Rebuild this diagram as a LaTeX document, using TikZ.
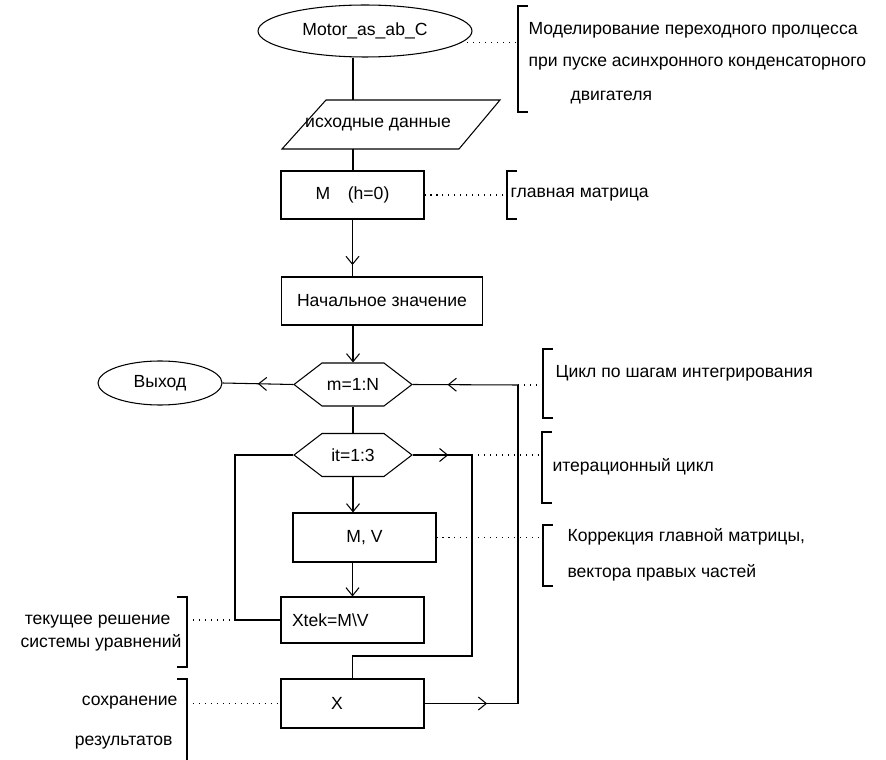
\documentclass[tikz,border=0pt]{standalone}
\usepackage{fontspec}
\setmainfont{Liberation Sans}
\usepackage{tikz}
\usetikzlibrary{shapes.geometric, shapes.symbols, arrows.meta, decorations.markings}

\tikzset{
  blok/.style={draw, rectangle, inner sep=0pt, minimum width=2.86cm, minimum height=0.96cm},
  cikl/.style={draw, signal, signal to=east and west, signal pointer angle=75, inner sep=0pt, minimum width=2.36cm, minimum height=0.86cm},
  term/.style={draw, ellipse, inner sep=0pt},
  poyasn/.style={dash pattern=on 0.6pt off 2.8pt},
  flow/.style={decoration={markings, mark=at position #1 with {\arrow{>}}}, postaction={decorate}},
  lnote/.style={anchor=west, inner sep=0pt},
  rnote/.style={anchor=east, inner sep=0pt},
}

\begin{document}
\begin{tikzpicture}[x=0.02cm, y=-0.02cm, line width=0.6pt, >={Straight Barb[length=1.6mm, width=2.6mm]}, font=\fontsize{10}{12}\selectfont]
\useasboundingbox (0,0) rectangle (886,760);

% blocks
\node[term, minimum width=4.28cm, minimum height=1.04cm] (start) at (365,31) {Motor\_as\_ab\_C};
\draw (282,149) -- (326,100) -- (500,100) -- (459,149) -- cycle;
\coordinate (in top) at (353,100);
\coordinate (in bot) at (353,149);
\node (data) at (378,125) {исходные данные};
\node[blok] (mh) at (352.5,195) {M\quad(h=0)};
\node[blok, minimum width=4.02cm] (init) at (382,301) {Начальное значение};
\node[cikl] (mloop) at (353,384.5) {m=1:N};
\node[term, minimum width=2.48cm, minimum height=0.88cm] (exit) at (160,383) {Выход};
\node[cikl] (itloop) at (353,455) {it=1:3};
\node[blok, minimum height=0.98cm] (mv) at (364.5,537.5) {M, V};
\node[blok, minimum height=0.92cm, inner xsep=0.2cm, text width=2.42cm, align=left] (xtek) at (352.5,620) {Xtek=M\textbackslash V};
\node[blok, minimum height=0.98cm, inner xsep=0.98cm, text width=0.86cm, align=left] (xres) at (352.5,703.5) {X};

% connectors
\draw (start.south -| in top) -- (in top);
\draw (in bot) -- (in bot |- mh.north);
\draw[flow=0.8] (mh.south) -- (mh.south |- init.north);
\draw[->] (init.south -| mloop) -- (mloop.north);
\draw[flow=0.5] (mloop.west) -- (exit.east);
\draw (mloop.south) -- (itloop.north);
\draw[->] (itloop.south) -- (itloop.south |- mv.north);
\draw[->] (mv.south -| xtek) -- (xtek.north);
\coordinate (loopL) at (235,455);
\draw (xtek.west) -| (loopL) -- (itloop.west);
\coordinate (loopR) at (472,455);
\coordinate (join) at (472,656);
\draw[flow=0.6] (itloop.east) -- (loopR);
\draw (loopR) -- (join) -| (xres.north);
\coordinate (back) at (518,385);
\draw[flow=0.67] (xres.east) -- (xres.east -| back);
\draw (xres.east -| back) -- (back);
\draw[flow=0.67] (back) -- (mloop.east);

% brackets
\coordinate (b1) at (518,6);
\coordinate (b2) at (507,171);
\coordinate (b3) at (543,349);
\coordinate (b4) at (542,432);
\coordinate (b5) at (543,525);
\coordinate (b6) at (187,597);
\coordinate (b7) at (187,679);
\draw ([xshift=0.2cm]b1) -- (b1) -- ++(0,106) -- ++(10,0);
\draw ([xshift=0.2cm]b2) -- (b2) -- ++(0,48) -- ++(10,0);
\draw ([xshift=0.2cm]b3) -- (b3) -- ++(0,69) -- ++(10,0);
\draw ([xshift=0.2cm]b4) -- (b4) -- ++(0,71) -- ++(10,0);
\draw ([xshift=0.2cm]b5) -- (b5) -- ++(0,61) -- ++(10,0);
\draw ([xshift=-0.2cm]b6) -- (b6) -- ++(0,70) -- ++(-10,0);
\draw ([xshift=-0.2cm]b7) -- (b7) -- (187,760);

% notes
\draw[poyasn] (start.-7) -- (start.-7 -| b1);
\draw[poyasn] (mh.east) -- (mh.east -| b2);
\draw[poyasn] (back) -- (back -| b3);
\draw[poyasn] (loopR) -- (loopR -| b4);
\draw[poyasn] (mv.east) -- (mv.east -| b5);
\draw[poyasn] (xtek.west -| b6) -- (xtek.west -| loopL);
\draw[poyasn] (xres.west -| b7) -- (xres.west);

\node[lnote] (t1) at (528,30) {Моделирование переходного пролцесса};
\node[lnote] (t2) at (528,64) {при пуске асинхронного конденсаторного};
\node[lnote] (t3) at (570,98) {двигателя};
\node[lnote] (t4) at (510,195) {главная матрица};
\node[lnote] (t5) at (555,373) {Цикл по шагам интегрирования};
\node[lnote] (t6) at (552,467) {итерационный цикл};
\node[lnote] (t7) at (567,537) {Коррекция главной матрицы,};
\node[lnote] (t8) at (567,573) {вектора правых частей};
\node[rnote] (t9) at (171,622) {текущее решение};
\node[rnote] (t10) at (182,643) {системы уравнений};
\node[rnote] (t11) at (178,703) {сохранение};
\node[rnote] (t12) at (173,743) {результатов};
\end{tikzpicture}
\end{document}
